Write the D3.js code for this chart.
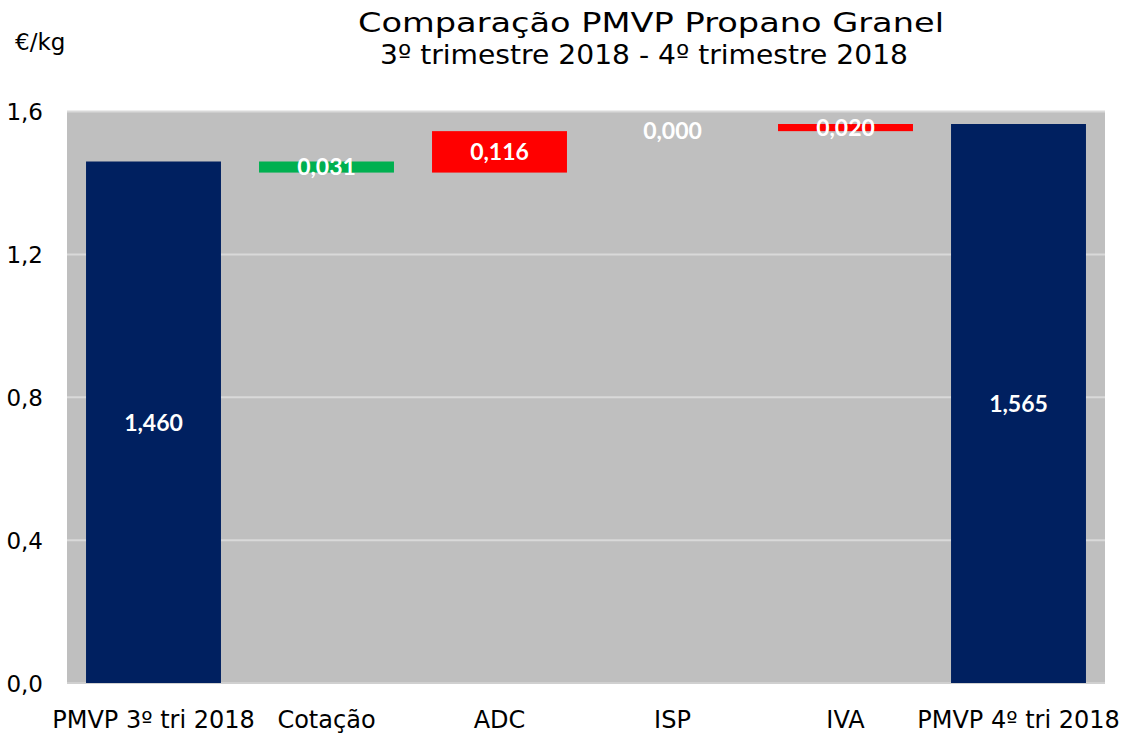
<!DOCTYPE html>
<html>
<head>
<meta charset="utf-8">
<script src="https://cdn.jsdelivr.net/npm/d3@7"></script>
<style>
  html, body { margin: 0; padding: 0; background: #fff; }
  svg { display: block; }
</style>
</head>
<body>
<svg id="chart" width="1125" height="734"></svg>
<script>
// ---- data ----
const categories = ["PMVP 3º tri 2018", "Cotação", "ADC", "ISP", "IVA", "PMVP 4º tri 2018"];
const kinds = ["total", "delta", "delta", "delta", "delta", "total"];
const values = [1.460, -0.031, 0.116, 0.000, 0.020, 1.565];
const yTicks = [0, 0.4, 0.8, 1.2, 1.6];
const titleLines = ["Comparação PMVP Propano Granel", "3º trimestre 2018 - 4º trimestre 2018"];
const unitLabel = "€/kg";

// ---- layout ----
const svg = d3.select("#chart");
const plotLeft = 67, plotRight = 1105, plotTop = 111.5, plotBottom = 683;
const titleX = [651, 644], titleLen = [586, 528];
const locale = d3.formatLocale({ decimal: ",", thousands: ".", grouping: [3], currency: ["", "€"] });
const fmt1 = locale.format(".1f");
const fmt3 = locale.format(".3f");

const x = d3.scaleBand().domain(categories).range([plotLeft, plotRight]).paddingInner(0.22).paddingOuter(0.11);
const y = d3.scaleLinear().domain([0, 1.6]).range([plotBottom, plotTop]);

// build waterfall segments
let running = 0;
const segs = categories.map((c, i) => {
  let y0, y1, color;
  if (kinds[i] === "total") {
    y0 = 0; y1 = values[i]; running = values[i]; color = "#002060";
  } else {
    y0 = running; y1 = running + values[i]; running = y1;
    color = values[i] < 0 ? "#00B050" : "#FF0000";
  }
  return { c, y0: Math.min(y0, y1), y1: Math.max(y0, y1), v: values[i], color };
});

// plot background
svg.append("rect").attr("x", plotLeft).attr("y", y(1.6)).attr("width", plotRight - plotLeft).attr("height", y(0) - y(1.6)).attr("fill", "#BFBFBF");

// gridlines
svg.append("g").selectAll("line").data(yTicks.filter(d => d > 0)).join("line")
  .attr("x1", plotLeft).attr("x2", plotRight)
  .attr("y1", d => y(d)).attr("y2", d => y(d))
  .attr("stroke", "#D9D9D9").attr("stroke-width", 2);
// baseline
svg.append("line").attr("x1", plotLeft).attr("x2", plotRight).attr("y1", y(0)).attr("y2", y(0))
  .attr("stroke", "#D0D0D0").attr("stroke-width", 2);

// bars
svg.append("g").selectAll("rect").data(segs).join("rect")
  .attr("x", d => x(d.c)).attr("width", x.bandwidth())
  .attr("y", d => y(d.y1)).attr("height", d => Math.max(0, y(d.y0) - y(d.y1)))
  .attr("fill", d => d.color);

// value labels
svg.append("g").selectAll("text").data(segs).join("text")
  .attr("x", d => x(d.c) + x.bandwidth() / 2)
  .attr("y", d => (y(d.y0) + y(d.y1)) / 2)
  .attr("dy", "0.36em")
  .attr("text-anchor", "middle")
  .attr("font-family", "Lato, 'Open Sans', sans-serif")
  .attr("font-weight", "bold")
  .attr("font-size", 23)
  .attr("fill", "#fff")
  .text(d => fmt3(Math.abs(d.v)));

const axisFont = "'DejaVu Sans', 'Noto Sans', sans-serif";

// y axis
const yAxis = svg.append("g").attr("transform", `translate(43,0)`)
  .call(d3.axisLeft(y).tickValues(yTicks).tickFormat(fmt1).tickSize(0).tickPadding(0));
yAxis.select(".domain").remove();
yAxis.selectAll("text").attr("font-family", axisFont).attr("font-size", 23).attr("fill", "#000").attr("dy", "0.36em");

// x axis
const xAxis = svg.append("g").attr("transform", `translate(0,${plotBottom})`)
  .call(d3.axisBottom(x).tickSize(0).tickPadding(0));
xAxis.select(".domain").remove();
xAxis.selectAll("text").attr("font-family", axisFont).attr("font-size", 24).attr("fill", "#000")
  .attr("dy", null).attr("y", 45);

// unit label
svg.append("text").attr("x", 15).attr("y", 50).attr("font-family", axisFont).attr("font-size", 23).attr("fill", "#000").text(unitLabel);

// title
svg.append("g").selectAll("text").data(titleLines).join("text")
  .attr("x", (d, i) => titleX[i]).attr("y", (d, i) => 32 + i * 32)
  .attr("text-anchor", "middle")
  .attr("textLength", (d, i) => titleLen[i]).attr("lengthAdjust", "spacingAndGlyphs")
  .attr("font-family", axisFont).attr("font-size", 27).attr("fill", "#000")
  .text(d => d);
</script>
</body>
</html>
